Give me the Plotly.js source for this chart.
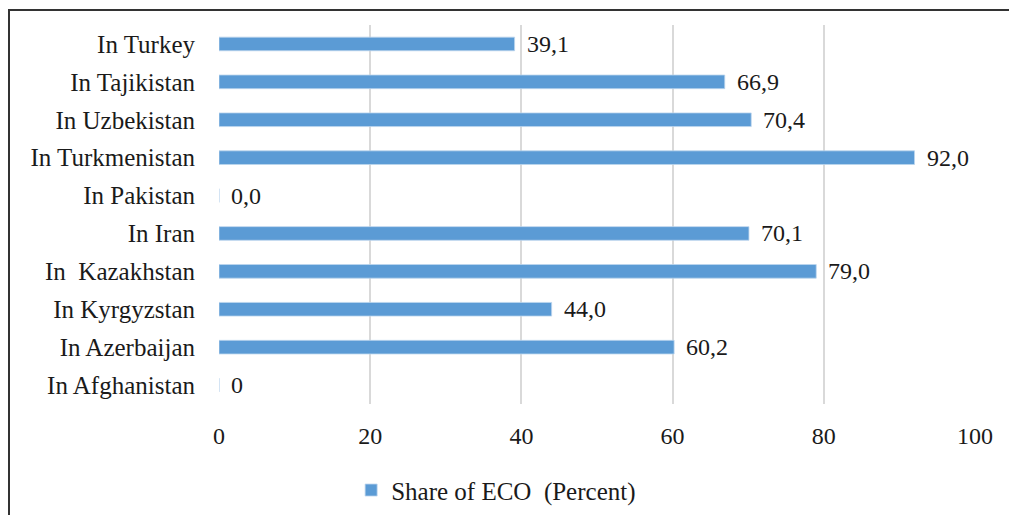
<!DOCTYPE html>
<html>
<head>
<meta charset="utf-8">
<script src="https://cdn.plot.ly/plotly-3.0.1.min.js"></script>
<style>
  html, body { margin: 0; padding: 0; background: #fff; }
  #wrap { position: relative; width: 1009px; height: 515px; }
  #chart { position: absolute; left: 0; top: 0; width: 1009px; height: 515px; }
  #frame {
    position: absolute; left: 8px; top: 9px; right: 0; bottom: 0;
    border-top: 2px solid #333; border-left: 2px solid #333;
    pointer-events: none;
  }
</style>
</head>
<body>
<div id="wrap">
  <div id="chart"></div>
  <div id="frame"></div>
</div>
<script>
// Share of ECO trade, by country (top to bottom)
const countries = [
  'In Turkey', 'In Tajikistan', 'In Uzbekistan', 'In Turkmenistan', 'In Pakistan',
  'In Iran', 'In\u00a0 Kazakhstan', 'In Kyrgyzstan', 'In Azerbaijan', 'In Afghanistan'
];
const shares = [39.1, 66.9, 70.4, 92.0, 0.0, 70.1, 79.0, 44.0, 60.2, 0];
const shareLabels = ['39,1', '66,9', '70,4', '92,0', '0,0', '70,1', '79,0', '44,0', '60,2', '0'];
const xTicks = [0, 20, 40, 60, 80, 100];
const seriesName = 'Share of ECO\u00a0 (Percent)';

const font = '"Liberation Serif", "Times New Roman", serif';
const ink = '#1a1a1a';

const trace = {
  type: 'bar',
  orientation: 'h',
  x: shares,
  y: countries,
  name: seriesName,
  width: 0.36,
  marker: { color: '#5b9bd5', line: { color: '#bcd6ee', width: 0.8 } },
  hoverinfo: 'skip',
  showlegend: true
};

// value labels just past the end of each bar
const valueNotes = countries.map((c, i) => ({
  x: shares[i],
  y: c,
  xref: 'x', yref: 'y',
  text: shareLabels[i],
  showarrow: false,
  xanchor: 'left',
  yanchor: 'middle',
  xshift: 10,
  font: { family: font, size: 24, color: ink }
}));

const layout = {
  width: 1009,
  height: 515,
  margin: { l: 219, r: 34, t: 25, b: 111, autoexpand: false },
  paper_bgcolor: '#ffffff',
  plot_bgcolor: '#ffffff',
  font: { family: font },
  xaxis: {
    range: [0, 100],
    tickvals: xTicks,
    ticktext: xTicks.map(String),
    showgrid: true,
    gridcolor: '#d9d9d9',
    gridwidth: 2,
    zeroline: false,
    showline: false,
    ticks: '',
    ticklabelstandoff: 15,
    tickfont: { family: font, size: 24, color: ink },
    fixedrange: true
  },
  yaxis: {
    type: 'category',
    categoryorder: 'array',
    categoryarray: countries,
    autorange: 'reversed',
    showgrid: false,
    zeroline: false,
    showline: false,
    ticks: '',
    ticklabelstandoff: 23,
    tickfont: { family: font, size: 25, color: ink },
    fixedrange: true
  },
  showlegend: true,
  legend: {
    orientation: 'h',
    xref: 'container',
    x: 0.348,
    xanchor: 'left',
    y: -0.167,
    yanchor: 'top',
    font: { family: font, size: 25, color: ink },
    itemwidth: 30
  },
  annotations: valueNotes
};

Plotly.newPlot('chart', [trace], layout, { displayModeBar: false, staticPlot: true });
</script>
</body>
</html>
